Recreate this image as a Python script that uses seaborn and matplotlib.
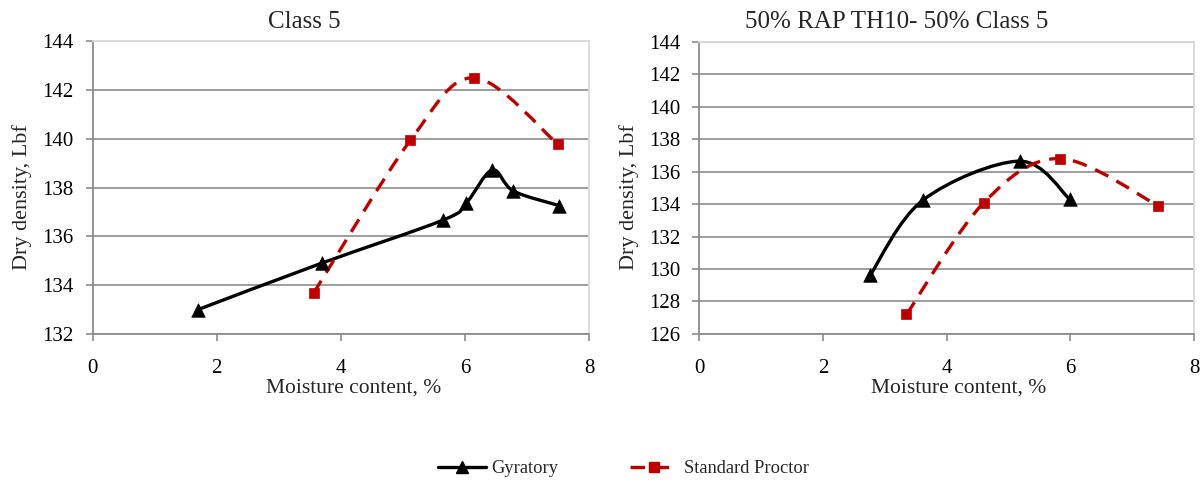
import numpy as np
import pandas as pd
import matplotlib
matplotlib.use("Agg")
import matplotlib.pyplot as plt
import seaborn as sns
from matplotlib.path import Path
from matplotlib.patches import PathPatch
from matplotlib.lines import Line2D

# ---------------- data ----------------
titles = ["Class 5", "50% RAP TH10- 50% Class 5"]

left_gyr_x = [1.70, 3.69, 5.65, 6.02, 6.44, 6.78, 7.52]
left_gyr_y = [133.0, 134.9, 136.67, 137.36, 138.72, 137.86, 137.26]
left_sp_x = [3.56, 5.12, 6.15, 7.50]
left_sp_y = [133.67, 139.93, 142.5, 139.77]

right_gyr_x = [2.76, 3.62, 5.18, 5.99]
right_gyr_y = [129.6, 134.25, 136.64, 134.3]
right_sp_x = [3.35, 4.60, 5.83, 7.42]
right_sp_y = [127.2, 134.08, 136.8, 133.9]

left_yticks = [132, 134, 136, 138, 140, 142, 144]
right_yticks = [126, 128, 130, 132, 134, 136, 138, 140, 142, 144]
xticks = [0, 2, 4, 6, 8]

series_names = ["Gyratory", "Standard Proctor"]

# ---------------- style ----------------
sns.set_theme(style="white")
plt.rcParams["font.family"] = ["Liberation Serif", "DejaVu Serif"]

BLACK = "#000000"
RED = "#C00000"
GRID = "#8c8c8c"


def smooth_path(xs, ys):
    """Excel-like smoothed line (Catmull-Rom converted to cubic Bezier)."""
    P = np.column_stack([xs, ys]).astype(float)
    n = len(P)
    verts = [P[0]]
    codes = [Path.MOVETO]
    for i in range(n - 1):
        p0 = P[i - 1] if i > 0 else P[i]
        p1 = P[i]
        p2 = P[i + 1]
        p3 = P[i + 2] if i + 2 < n else P[i + 1]
        c1 = p1 + (p2 - p0) / 6.0
        c2 = p2 - (p3 - p1) / 6.0
        verts += [c1, c2, p2]
        codes += [Path.CURVE4] * 3
    return Path(np.array(verts), codes)


fig = plt.figure(figsize=(12.03, 4.84), dpi=100)
ax_l = fig.add_axes([0.077, 0.31, 0.4126, 0.605])
ax_r = fig.add_axes([0.5813, 0.31, 0.4112, 0.604])

panels = [
    (ax_l, titles[0], 0.4274, left_gyr_x, left_gyr_y, left_sp_x, left_sp_y, left_yticks),
    (ax_r, titles[1], 0.3996, right_gyr_x, right_gyr_y, right_sp_x, right_sp_y, right_yticks),
]

for ax, title, tx, gx, gy, sx, sy, yt in panels:
    # smoothed connecting lines
    ax.add_patch(PathPatch(smooth_path(gx, gy), fill=False, edgecolor=BLACK,
                           lw=2.4, capstyle="butt", zorder=3))
    ax.add_patch(PathPatch(smooth_path(sx, sy), fill=False, edgecolor=RED,
                           lw=2.4, linestyle=(0, (4.4, 2.8)), capstyle="butt", zorder=3))
    # markers
    gdf = pd.DataFrame({"x": gx, "y": gy})
    sdf = pd.DataFrame({"x": sx, "y": sy})
    sns.scatterplot(data=gdf, x="x", y="y", marker="^", s=95, color=BLACK,
                    edgecolor=BLACK, linewidth=0.5, ax=ax, zorder=4, legend=False)
    sns.scatterplot(data=sdf, x="x", y="y", marker="s", s=60, color=RED,
                    edgecolor=RED, linewidth=0.5, ax=ax, zorder=4, legend=False)

    ax.set_xlim(xticks[0], xticks[-1])
    ax.set_ylim(yt[0], yt[-1])
    ax.set_xticks(xticks)
    ax.set_yticks(yt)
    ax.set_xticklabels([str(v) for v in xticks])
    ax.set_yticklabels([str(v) for v in yt])
    ax.tick_params(axis="both", labelsize=15, colors="black",
                   direction="out", length=5, width=1.2, color=GRID,
                   left=True, bottom=True)
    ax.tick_params(axis="x", pad=13)
    ax.tick_params(axis="y", pad=8.5)
    ax.grid(axis="y", color=GRID, lw=1.2)
    ax.grid(axis="x", visible=False)
    ax.set_axisbelow(True)
    for side in ["left", "bottom"]:
        ax.spines[side].set_color(GRID)
        ax.spines[side].set_linewidth(1.3)
    for side in ["top", "right"]:
        ax.spines[side].set_color("#d9d9d9")
        ax.spines[side].set_linewidth(1.3)
    ax.set_title(title, fontsize=18, x=tx, y=1.046, pad=0)
    ax.set_xlabel("Moisture content, %", fontsize=15.5)
    ax.xaxis.set_label_coords(0.525, -0.153)
    ax.xaxis.label.set_va("top")
    ax.set_ylabel("Dry density, Lbf", fontsize=16)
    ax.yaxis.set_label_coords(-0.122, 0.468)

handles = [
    Line2D([], [], color=BLACK, lw=2.4, marker="^", markersize=8),
    Line2D([], [], color=RED, lw=2.4, linestyle=(0, (4.4, 2.8)), marker="s", markersize=7),
]
fig.legend(handles, series_names, loc="lower center", bbox_to_anchor=(0.518, -0.02),
           ncol=2, frameon=False, fontsize=13.3, handlelength=2.6,
           columnspacing=3.9, handletextpad=0.3)

fig.savefig("out.png", dpi=100)
